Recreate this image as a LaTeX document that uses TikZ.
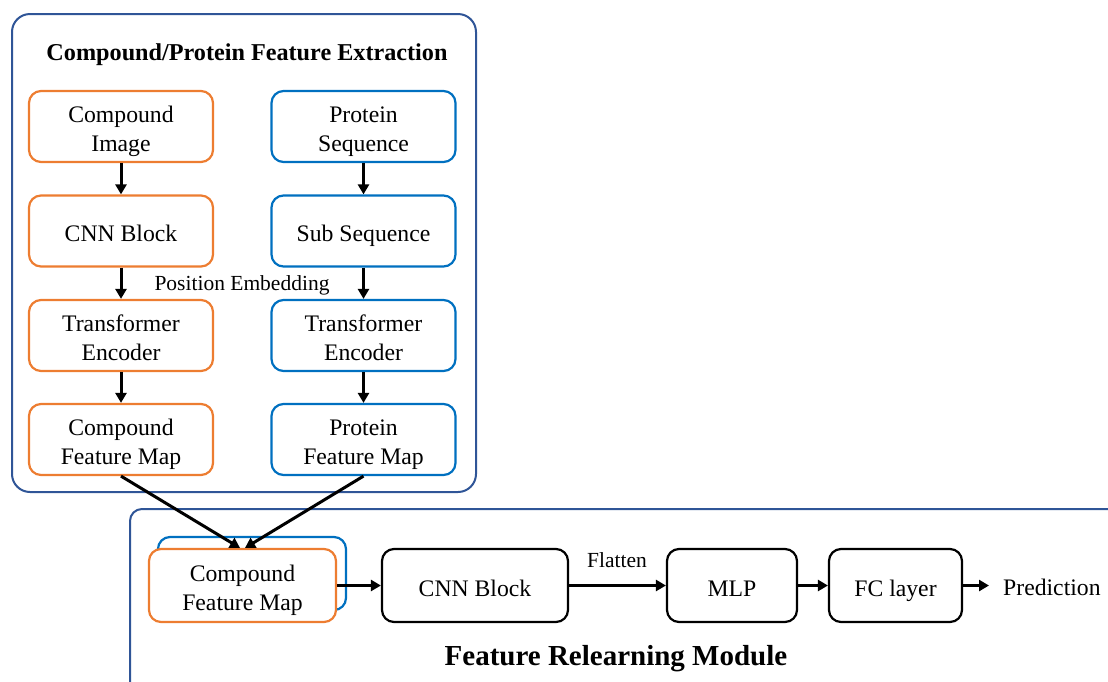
\documentclass[tikz,border=0pt]{standalone}
\usepackage{fontspec}
\setmainfont{Liberation Serif}
\usetikzlibrary{arrows.meta,calc}
\definecolor{orng}{HTML}{ED7D31}
\definecolor{blu}{HTML}{0070C0}
\definecolor{navy}{HTML}{2F5597}
\newcommand\myrule[1]{\rule{0pt}{#1pt}}
\newcommand\mydp{\rule[-6pt]{0pt}{6pt}}
\begin{document}
\begin{tikzpicture}[x=1pt,y=-1pt,
  box/.style={draw, rounded corners=12pt, line width=2.2pt, minimum width=184pt, minimum height=71pt,
    align=center, inner sep=0pt, fill=white, font=\fontsize{23.7}{29}\selectfont},
  obox/.style={box, draw=orng},
  bbox/.style={box, draw=blu},
  kbox/.style={box, draw=black},
  lab/.style={inner sep=0pt, font=\fontsize{21.5}{25}\selectfont},
  arr/.style={-{Triangle[length=10pt,width=11pt]}, line width=3pt, black},
  frame/.style={draw=navy, line width=2pt}]
\useasboundingbox (0,0) rectangle (1108,681);
\begin{scope}
\clip (0,0) rectangle (1108,681);
% frames
\draw[frame, rounded corners=18pt] (12,14) rectangle (476,492);
\draw[frame, rounded corners=12pt] (130,700) -- (130,509) -- (1130,509);
\end{scope}
\node[font=\fontsize{24.2}{29}\selectfont\bfseries] (title) at (247,55) {Compound/Protein Feature Extraction};
% left column
\node[obox] (ci) at (121,126.5) {\myrule{27}Compound\\Image\mydp};
\node[obox] (cnn1) at (121,231) {\myrule{27}CNN Block\mydp};
\node[obox] (te1) at (121,335.5) {\myrule{27}Transformer\\Encoder\mydp};
\node[obox] (cfm) at (121,439.5) {\myrule{27}Compound\\Feature Map\mydp};
% right column
\node[bbox] (ps) at (363.5,126.5) {\myrule{27}Protein\\Sequence\mydp};
\node[bbox] (ss) at (363.5,231) {\myrule{27}Sub Sequence\mydp};
\node[bbox] (te2) at (363.5,335.5) {\myrule{27}Transformer\\Encoder\mydp};
\node[bbox] (pfm) at (363.5,439.5) {\myrule{27}Protein\\Feature Map\mydp};
\node[lab] (pe) at (242,285) {Position Embedding};
\draw[arr] (ci) -- (cnn1);
\draw[arr] (cnn1) -- (te1);
\draw[arr] (te1) -- (cfm);
\draw[arr] (ps) -- (ss);
\draw[arr] (ss) -- (te2);
\draw[arr] (te2) -- (pfm);
% bottom module
\node[bbox, minimum width=188pt, minimum height=73pt] (back) at (252,573.5) {};
\node[obox, minimum width=187pt, minimum height=73pt] (cfm2) at (242.5,585.5) {\myrule{27}Compound\\Feature Map\mydp};
\node[kbox, minimum width=186pt, minimum height=73pt] (cnn2) at (475,585.5) {\myrule{27}CNN Block\mydp};
\node[kbox, minimum width=130pt, minimum height=73pt] (mlp) at (732,585.5) {\myrule{27}MLP\mydp};
\node[kbox, minimum width=133pt, minimum height=73pt] (fc) at (895.5,585.5) {\myrule{27}FC layer\mydp};
\node[inner sep=0pt, font=\fontsize{23.7}{29}\selectfont, anchor=west] (pred) at (1003,587) {Prediction};
\node[lab] (fl) at (617,560) {Flatten};
\node[font=\fontsize{29}{34}\selectfont\bfseries] (frm) at (616,659) {Feature Relearning Module};
\coordinate (inL) at ($(cfm2.north)+(-2.5,0)$);
\coordinate (inR) at ($(cfm2.north)+(2.5,0)$);
\coordinate (pin) at ($(fc.east -| pred.west)+(-14,0)$);
\draw[arr] (cfm.south) -- (inL);
\draw[arr] (pfm.south) -- (inR);
\draw[arr] (cfm2) -- (cnn2);
\draw[arr] (cnn2) -- (mlp);
\draw[arr] (mlp) -- (fc);
\draw[arr] (fc) -- (pin);
\end{tikzpicture}
\end{document}
